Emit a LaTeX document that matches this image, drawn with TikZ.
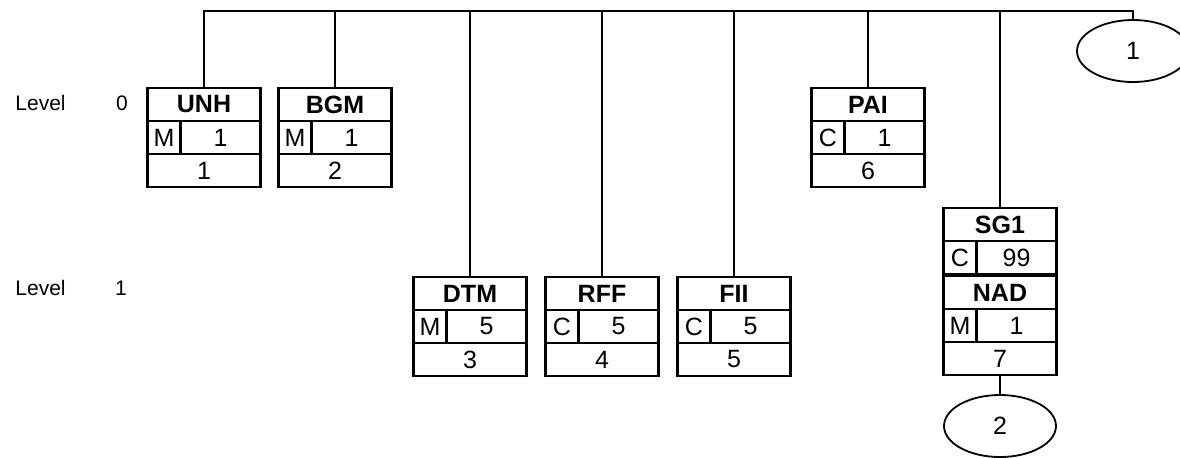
\documentclass[tikz,border=0pt]{standalone}
\usepackage{fontspec}
\setmainfont{Liberation Sans}
\usetikzlibrary{positioning,shapes.geometric}

\begin{document}
\begin{tikzpicture}[
            x=0.5pt,y=-0.5pt,
            cell/.style={draw,line width=1.4pt,minimum height=16.5pt,inner sep=0pt,outer sep=0pt,font=\fontsize{12.5}{15}\selectfont},
            head/.style={cell,minimum width=56.5pt,font=\fontsize{12.5}{15}\selectfont\bfseries},
            stat/.style={cell,minimum width=16.5pt},
            reps/.style={cell,minimum width=40pt},
            posn/.style={cell,minimum width=56.5pt},
            lvl/.style={font=\fontsize{10.5}{13}\selectfont,inner sep=0pt},
            link/.style={ellipse,draw,line width=0.9pt,minimum width=56pt,minimum height=31pt,inner sep=0pt,font=\fontsize{12.5}{15}\selectfont},
            conn/.style={draw,line width=1.1pt}
          ]
          \useasboundingbox (0,0) rectangle (1180,457);

          %labels
          \node[lvl,anchor=west] (lev0) at (15,103) {Level};
          \node[lvl] (lev0n) at (122,103) {0};
          \node[lvl,anchor=west] (lev1) at (15,288) {Level};
          \node[lvl] (lev1n) at (121,288) {1};

          %segments
          \foreach \id/\x/\y/\nm/\st/\rp/\ps in {unh/204/88/UNH/M/1/1, bgm/335/88/BGM/M/1/2,
              dtm/470/277/DTM/M/5/3, rff/602/277/RFF/C/5/4, fii/734/277/FII/C/5/5,
              pai/868/88/PAI/C/1/6, nad/1000/276/NAD/M/1/7}{
            \node[head,anchor=north] (\id) at (\x,\y) {\nm};
            \node[stat,below right=0pt of \id.south west] (\id-st) {\st};
            \node[reps,below left=0pt of \id.south east] (\id-rp) {\rp};
            \node[posn,below right=0pt of \id-st.south west] (\id-ps) {\ps};
          }

          %segment group
          \node[head,anchor=north] (sg1) at (1000,208) {SG1};
          \node[stat,below right=0pt of sg1.south west] (sg1-st) {C};
          \node[reps,below left=0pt of sg1.south east] (sg1-rp) {99};

          %links
          \node[link] (e1) at (1133,51) {1};
          \node[link] (e2) at (1000,426) {2};

          \coordinate (bus) at (0,11);
          \draw[conn] (unh.north) -- (unh.north |- bus) -- (e1.north |- bus) -- (e1.north);
          \foreach \id in {bgm,dtm,rff,fii,pai,sg1}
            \draw[conn] (\id.north) -- (\id.north |- bus);
          \draw[conn] (nad-ps.south) -- (e2.north);

      \end{tikzpicture}
\end{document}
